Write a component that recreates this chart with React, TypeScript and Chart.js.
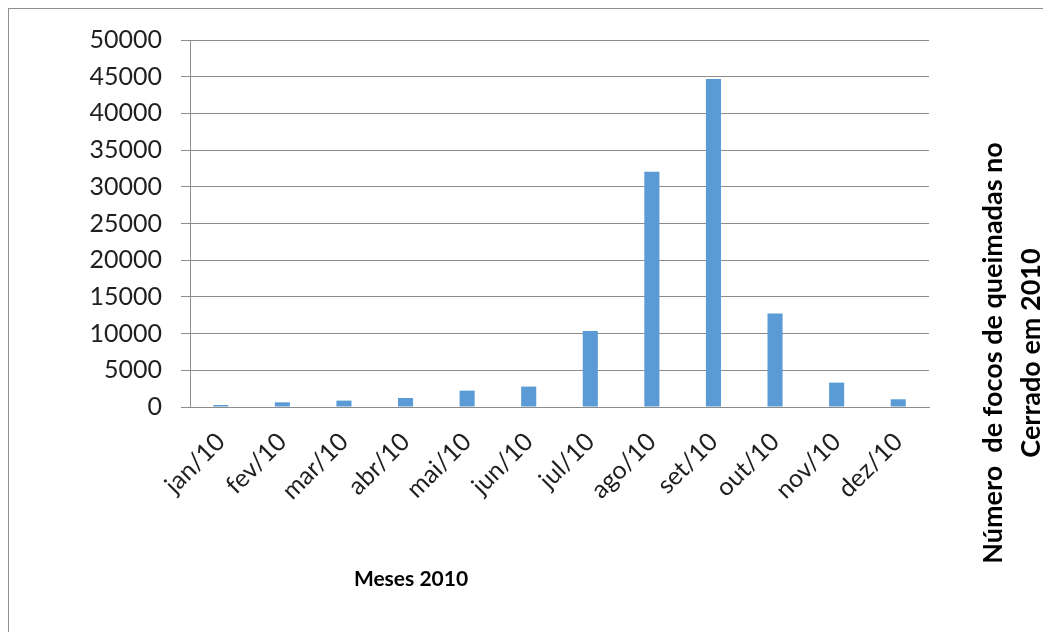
import React, { useEffect, useRef } from "react";
import { Chart, registerables, Plugin } from "chart.js";

Chart.register(...registerables);

// Monthly fire hotspot counts in the Cerrado, 2010
const months = [
  "jan/10", "fev/10", "mar/10", "abr/10", "mai/10", "jun/10",
  "jul/10", "ago/10", "set/10", "out/10", "nov/10", "dez/10",
];
const focos = [270, 640, 870, 1230, 2230, 2780, 10370, 32050, 44700, 12740, 3320, 1050];

const yTickMax = 50000;
const yTickStep = 5000;

const xTitle = "Meses 2010";
const yTitleLines = ["Número  de focos de queimadas no", "Cerrado em 2010"];

const FONT = "Lato, 'Open Sans', sans-serif";
const TEXT = "#1f1f1f";
const GRID = "#8c8c8c";
const BAR = "#5b9bd5";

// Axis titles drawn where the spreadsheet layout puts them
const titlesPlugin: Plugin<"bar"> = {
  id: "axisTitles",
  afterDraw(chart) {
    const ctx = chart.ctx;
    ctx.save();
    ctx.fillStyle = "#000";
    ctx.font = `bold 21px ${FONT}`;
    ctx.textAlign = "center";
    ctx.textBaseline = "alphabetic";
    ctx.fillText(xTitle, 402, 577);

    ctx.font = `bold 27px ${FONT}`;
    const baselines = [993, 1031];
    yTitleLines.forEach((line, i) => {
      ctx.save();
      ctx.translate(baselines[i], 344);
      ctx.rotate(-Math.PI / 2);
      ctx.fillText(line, 0, 0);
      ctx.restore();
    });
    ctx.restore();
  },
};

export default function App() {
  const canvasRef = useRef<HTMLCanvasElement | null>(null);

  useEffect(() => {
    document.body.style.overflow = "hidden";
    const canvas = canvasRef.current;
    if (!canvas) return;
    const chart = new Chart(canvas, {
      type: "bar",
      data: {
        labels: months,
        datasets: [
          {
            data: focos,
            backgroundColor: BAR,
            borderWidth: 0,
            categoryPercentage: 1,
            barPercentage: 0.245,
          },
        ],
      },
      options: {
        animation: false,
        responsive: false,
        maintainAspectRatio: false,
        layout: { padding: { left: 0, top: 31, right: 122, bottom: 0 } },
        plugins: {
          legend: { display: false },
          tooltip: { enabled: false },
          title: { display: false },
        },
        scales: {
          x: {
            grid: { display: false, drawTicks: false },
            border: { display: true, color: GRID, width: 1 },
            ticks: {
              autoSkip: false,
              minRotation: 45,
              maxRotation: 45,
              padding: 20,
              color: TEXT,
              font: { family: FONT, size: 25 },
            },
            afterFit(scale) {
              scale.height = 225;
              scale.paddingLeft = 0;
              scale.paddingRight = 0;
            },
          },
          y: {
            min: 0,
            max: yTickMax,
            grid: { color: GRID, lineWidth: 1, tickLength: 9, drawTicks: true },
            border: { display: true, color: GRID, width: 1 },
            ticks: {
              stepSize: yTickStep,
              padding: 19,
              color: TEXT,
              font: { family: FONT, size: 25 },
              callback: (v) => String(v),
            },
            afterFit(scale) {
              scale.width = 181;
              scale.paddingTop = 0;
              scale.paddingBottom = 0;
            },
          },
        },
      },
      plugins: [titlesPlugin],
    });
    return () => chart.destroy();
  }, []);

  return (
    <div
      style={{
        width: 1042,
        height: 623,
        borderLeft: "1px solid #8f8f8f",
        borderTop: "1px solid #8f8f8f",
        background: "#fff",
      }}
    >
      <canvas ref={canvasRef} width={1042} height={623} style={{ display: "block" }} />
    </div>
  );
}
